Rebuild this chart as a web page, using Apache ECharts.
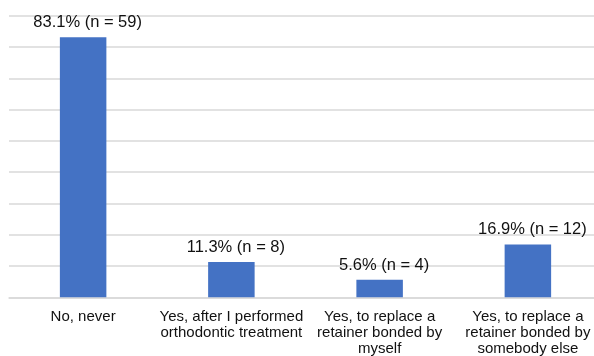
<!DOCTYPE html>
<html>
<head>
<meta charset="utf-8">
<script src="https://cdn.jsdelivr.net/npm/echarts@6/dist/echarts.min.js"></script>
<style>
  html, body { margin: 0; padding: 0; background: #fff; }
  #chart { width: 594px; height: 356px; }
</style>
</head>
<body>
<div id="chart"></div>
<script>
// Answer categories (line breaks as shown under the axis)
const categories = [
  'No, never',
  'Yes, after I performed\northodontic treatment',
  'Yes, to replace a\nretainer bonded by\nmyself',
  'Yes, to replace a\nretainer bonded by\nsomebody else'
];
// Share of respondents (%) and counts
const percents = [83.1, 11.3, 5.6, 16.9];
const counts = [59, 8, 4, 12];

const chart = echarts.init(document.getElementById('chart'), null, { renderer: 'canvas' });
const font = '"Liberation Sans", Arial, Helvetica, sans-serif';

chart.setOption({
  animation: false,
  backgroundColor: '#ffffff',
  grid: {
    left: 9, width: 593, top: 15.7, bottom: 58.7,
    containLabel: false,
    outerBoundsMode: 'none'
  },
  xAxis: {
    type: 'category',
    data: categories,
    axisLine: { show: true, lineStyle: { color: '#d9d9d9', width: 1.5 } },
    axisTick: { show: false },
    axisLabel: {
      interval: 0,
      margin: 11.5,
      color: '#111',
      fontFamily: font,
      fontSize: 15,
      lineHeight: 16
    }
  },
  yAxis: {
    type: 'value',
    min: 0,
    max: 90,
    interval: 10,
    axisLine: { show: false },
    axisTick: { show: false },
    axisLabel: { show: false },
    splitLine: { lineStyle: { color: '#d9d9d9', width: 1.5 } }
  },
  series: [{
    type: 'bar',
    data: percents,
    barWidth: 46.5,
    itemStyle: { color: '#4472c4' },
    label: {
      show: true,
      position: 'top',
      distance: 6,
      offset: [4.5, 0],
      color: '#111',
      fontFamily: font,
      fontSize: 16.5,
      formatter: p => p.value.toFixed(1) + '% (n = ' + counts[p.dataIndex] + ')'
    }
  }]
});
</script>
</body>
</html>
